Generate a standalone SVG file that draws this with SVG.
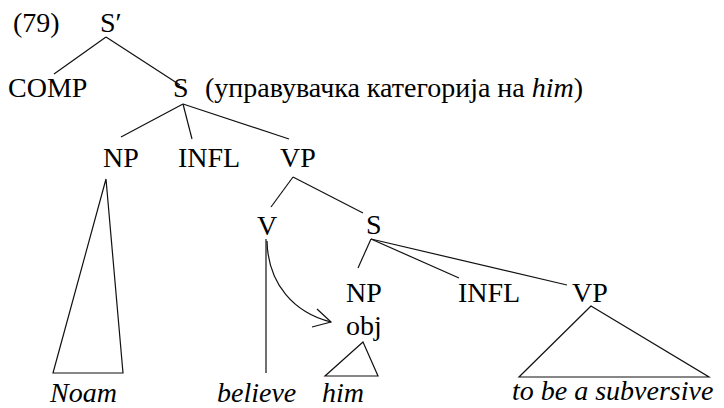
<svg xmlns="http://www.w3.org/2000/svg" width="724" height="408" viewBox="0 0 724 408" font-family="'Liberation Serif', serif" font-size="28">
  <style>
    .t { font-family: "Liberation Serif", serif; font-size: 28px; fill: #000; }
    .it { font-style: italic; }
    .edge { stroke: #111; stroke-width: 1.2; fill: none; }
  </style>
  <rect width="724" height="408" fill="#fff"/>

  <text class="t" x="13" y="32">(79)</text>

  <g id="node-sbar"><text class="t" x="100" y="32">S′</text></g>
  <g id="node-comp"><text class="t" x="8" y="97">COMP</text></g>
  <g id="node-s"><text class="t" x="173" y="97">S</text>
    <text class="t" x="205" y="97">(управувачка категорија на <tspan class="it">him</tspan>)</text></g>
  <g id="node-np"><text class="t" x="103" y="167">NP</text></g>
  <g id="node-infl"><text class="t" x="178" y="167">INFL</text></g>
  <g id="node-vp"><text class="t" x="280" y="167">VP</text></g>
  <g id="node-v"><text class="t" x="257" y="235">V</text></g>
  <g id="node-s2"><text class="t" x="366" y="234">S</text></g>
  <g id="node-np2"><text class="t" x="346" y="302">NP</text><text class="t" x="346" y="335">obj</text></g>
  <g id="node-infl2"><text class="t" x="458" y="302">INFL</text></g>
  <g id="node-vp2"><text class="t" x="572" y="302">VP</text></g>
  <g id="leaf-noam"><text class="t it" x="50" y="402">Noam</text></g>
  <g id="leaf-believe"><text class="t it" x="217" y="402">believe</text></g>
  <g id="leaf-him"><text class="t it" x="322" y="402">him</text></g>
  <g id="leaf-tobe"><text class="t it" x="512" y="400">to be a subversive</text></g>

  <g id="connectors" class="edge">
    <line x1="106" y1="37" x2="54" y2="74"/>
    <line x1="106" y1="37" x2="180" y2="85"/>
    <line x1="183" y1="104" x2="121" y2="137"/>
    <line x1="183" y1="104" x2="192" y2="139"/>
    <line x1="183" y1="104" x2="289" y2="139"/>
    <line x1="293" y1="177" x2="271" y2="207"/>
    <line x1="293" y1="177" x2="363" y2="213"/>
    <line x1="371" y1="239" x2="358" y2="268"/>
    <line x1="371" y1="239" x2="459" y2="278"/>
    <line x1="371" y1="239" x2="567" y2="285"/>
    <polygon points="106,179 53,373 123,373"/>
    <line x1="266" y1="239" x2="266" y2="373"/>
    <polygon points="363,342 325,376 378,376"/>
    <polygon points="591,306 519,377 709,377"/>
    <!-- government arrow from V to the object NP, with an open head -->
    <path d="M267,241 C268,285 295,313 331,322"/>
    <path d="M317,309 L331,322 L312,327"/>
  </g>
</svg>
